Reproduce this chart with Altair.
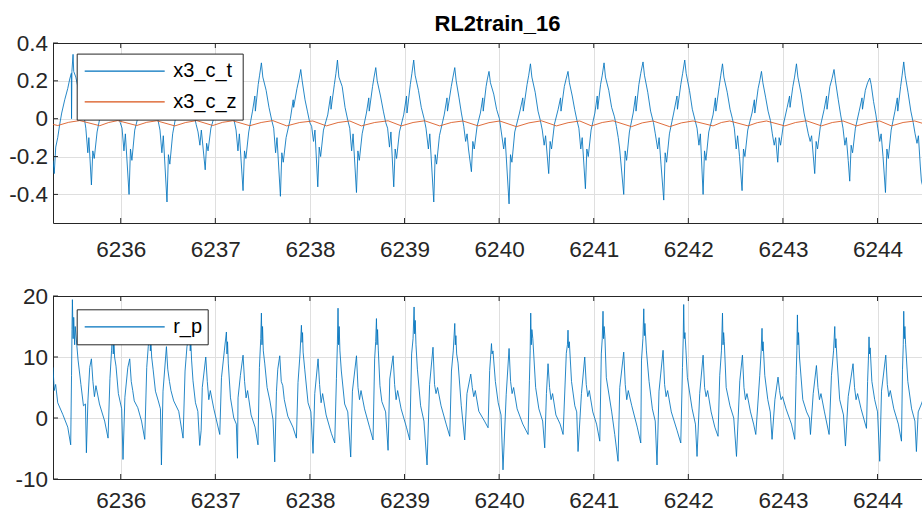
import altair as alt
import pandas as pd

# ---------------- data ----------------
x3_c_t = [
    (6235.284,-0.22),(6235.297,-0.29),(6235.313,-0.15),(6235.334,-0.10),(6235.355,-0.03),(6235.376,0.03),(6235.408,0.10),(6235.440,0.16),(6235.461,0.21),(6235.478,0.24),(6235.480,0.00),(6235.484,0.25),(6235.496,0.34),(6235.503,0.25),(6235.525,0.22),(6235.567,0.12),(6235.610,0.02),(6235.631,-0.05),(6235.652,-0.18),(6235.663,-0.10),
    (6235.690,-0.35),(6235.705,-0.17),(6235.720,-0.21),(6235.750,-0.07),(6235.790,0.03),(6235.815,0.10),(6235.820,0.02),(6235.850,0.17),(6235.865,0.22),(6235.884,0.28),(6235.899,0.21),(6235.934,0.15),(6235.964,0.06),(6235.994,-0.02),(6236.014,-0.05),(6236.034,-0.17),(6236.049,-0.08),
    (6236.088,-0.40),(6236.103,-0.16),(6236.118,-0.22),(6236.148,-0.06),(6236.188,0.02),(6236.213,0.11),(6236.218,0.03),(6236.248,0.16),(6236.263,0.21),(6236.285,0.27),(6236.300,0.20),(6236.335,0.13),(6236.365,0.05),(6236.395,-0.01),(6236.415,-0.06),(6236.435,-0.18),(6236.450,-0.09),
    (6236.489,-0.44),(6236.504,-0.19),(6236.519,-0.24),(6236.549,-0.08),(6236.589,0.03),(6236.614,0.10),(6236.619,0.01),(6236.649,0.17),(6236.664,0.21),(6236.687,0.27),(6236.702,0.21),(6236.737,0.14),(6236.767,0.04),(6236.797,-0.03),(6236.817,-0.07),(6236.837,-0.14),(6236.852,-0.06),
    (6236.893,-0.27),(6236.908,-0.13),(6236.923,-0.17),(6236.953,-0.05),(6236.993,0.02),(6237.018,0.09),(6237.023,0.03),(6237.053,0.15),(6237.068,0.20),(6237.089,0.25),(6237.104,0.19),(6237.139,0.12),(6237.169,0.05),(6237.199,-0.01),(6237.219,-0.06),(6237.239,-0.17),(6237.254,-0.08),
    (6237.293,-0.38),(6237.308,-0.17),(6237.323,-0.21),(6237.353,-0.07),(6237.393,0.04),(6237.418,0.12),(6237.423,0.04),(6237.453,0.18),(6237.468,0.23),(6237.487,0.295),(6237.502,0.22),(6237.537,0.15),(6237.567,0.06),(6237.597,-0.01),(6237.617,-0.05),(6237.637,-0.18),(6237.652,-0.10),
    (6237.688,-0.41),(6237.703,-0.18),(6237.718,-0.23),(6237.748,-0.10),(6237.793,0.00),(6237.823,0.10),(6237.828,0.06),(6237.863,0.16),(6237.885,0.21),(6237.903,0.26),(6237.918,0.20),(6237.948,0.10),(6237.973,0.04),(6237.998,-0.02),(6238.018,-0.04),(6238.038,-0.12),(6238.053,-0.06),
    (6238.083,-0.36),(6238.098,-0.15),(6238.113,-0.20),(6238.143,-0.06),(6238.188,0.02),(6238.218,0.12),(6238.223,0.05),(6238.258,0.18),(6238.275,0.24),(6238.291,0.31),(6238.306,0.22),(6238.341,0.17),(6238.371,0.06),(6238.401,-0.01),(6238.421,-0.05),(6238.441,-0.17),(6238.456,-0.08),
    (6238.492,-0.39),(6238.507,-0.17),(6238.522,-0.22),(6238.552,-0.08),(6238.597,0.03),(6238.622,0.11),(6238.627,0.04),(6238.662,0.17),(6238.678,0.22),(6238.696,0.27),(6238.711,0.20),(6238.746,0.12),(6238.776,0.04),(6238.801,-0.02),(6238.821,-0.05),(6238.841,-0.15),(6238.856,-0.07),
    (6238.886,-0.36),(6238.901,-0.16),(6238.916,-0.21),(6238.946,-0.07),(6238.991,0.02),(6239.021,0.12),(6239.026,0.03),(6239.061,0.18),(6239.078,0.24),(6239.097,0.31),(6239.112,0.23),(6239.147,0.15),(6239.177,0.06),(6239.207,0.00),(6239.227,-0.05),(6239.252,-0.16),(6239.267,-0.08),
    (6239.309,-0.44),(6239.324,-0.19),(6239.339,-0.24),(6239.369,-0.09),(6239.419,0.02),(6239.449,0.11),(6239.454,0.04),(6239.494,0.17),(6239.512,0.22),(6239.531,0.27),(6239.546,0.20),(6239.576,0.11),(6239.601,0.03),(6239.626,-0.04),(6239.646,-0.12),(6239.661,-0.08),(6239.676,-0.16),
    (6239.707,-0.28),(6239.722,-0.12),(6239.737,-0.16),(6239.767,-0.04),(6239.802,0.03),(6239.827,0.11),(6239.832,0.04),(6239.862,0.17),(6239.876,0.21),(6239.893,0.25),(6239.908,0.19),(6239.943,0.13),(6239.973,0.05),(6240.003,0.00),(6240.023,-0.07),(6240.048,-0.16),(6240.063,-0.10),
    (6240.105,-0.45),(6240.120,-0.19),(6240.135,-0.23),(6240.165,-0.07),(6240.215,0.03),(6240.250,0.11),(6240.255,0.04),(6240.295,0.18),(6240.313,0.23),(6240.331,0.29),(6240.346,0.22),(6240.381,0.14),(6240.411,0.04),(6240.436,-0.01),(6240.456,-0.06),(6240.476,-0.14),(6240.491,-0.09),
    (6240.524,-0.29),(6240.539,-0.12),(6240.554,-0.16),(6240.584,-0.03),(6240.624,0.05),(6240.649,0.11),(6240.654,0.04),(6240.689,0.17),(6240.708,0.21),(6240.728,0.25),(6240.743,0.19),(6240.773,0.12),(6240.798,0.05),(6240.823,-0.01),(6240.843,-0.05),(6240.863,-0.16),(6240.878,-0.10),
    (6240.912,-0.37),(6240.927,-0.16),(6240.942,-0.20),(6240.972,-0.06),(6241.012,0.03),(6241.037,0.12),(6241.042,0.05),(6241.072,0.18),(6241.090,0.23),(6241.109,0.295),(6241.124,0.22),(6241.159,0.15),(6241.189,0.06),(6241.219,0.01),(6241.239,-0.04),(6241.259,-0.10),(6241.274,-0.16),
    (6241.317,-0.40),(6241.332,-0.17),(6241.347,-0.22),(6241.377,-0.07),(6241.417,0.03),(6241.442,0.12),(6241.447,0.04),(6241.477,0.18),(6241.497,0.24),(6241.521,0.30),(6241.536,0.23),(6241.571,0.14),(6241.601,0.04),(6241.631,-0.02),(6241.651,-0.08),(6241.676,-0.16),(6241.691,-0.10),(6241.711,-0.24),
    (6241.740,-0.43),(6241.755,-0.18),(6241.770,-0.23),(6241.800,-0.08),(6241.845,0.03),(6241.880,0.12),(6241.885,0.05),(6241.920,0.18),(6241.940,0.24),(6241.962,0.31),(6241.977,0.24),(6242.012,0.15),(6242.042,0.05),(6242.072,-0.01),(6242.092,-0.05),(6242.112,-0.14),(6242.127,-0.08),
    (6242.156,-0.40),(6242.171,-0.17),(6242.186,-0.22),(6242.216,-0.07),(6242.261,0.02),(6242.286,0.11),(6242.291,0.04),(6242.326,0.17),(6242.343,0.23),(6242.361,0.29),(6242.376,0.22),(6242.411,0.14),(6242.441,0.05),(6242.466,0.00),(6242.486,-0.05),(6242.506,-0.16),(6242.521,-0.09),(6242.541,-0.20),
    (6242.568,-0.38),(6242.583,-0.16),(6242.598,-0.20),(6242.628,-0.06),(6242.673,0.03),(6242.698,0.10),(6242.703,0.03),(6242.738,0.16),(6242.755,0.20),(6242.773,0.25),(6242.788,0.19),(6242.818,0.11),(6242.843,0.04),(6242.868,-0.01),(6242.888,-0.08),(6242.908,-0.14),(6242.923,-0.10),
    (6242.945,-0.23),(6242.960,-0.10),(6242.975,-0.14),(6243.005,-0.03),(6243.045,0.06),(6243.070,0.12),(6243.075,0.06),(6243.105,0.17),(6243.123,0.22),(6243.143,0.29),(6243.158,0.22),(6243.193,0.13),(6243.223,0.03),(6243.248,-0.03),(6243.268,-0.08),(6243.288,-0.12),(6243.303,-0.09),
    (6243.336,-0.29),(6243.351,-0.12),(6243.366,-0.16),(6243.396,-0.04),(6243.436,0.05),(6243.461,0.12),(6243.466,0.05),(6243.496,0.17),(6243.518,0.21),(6243.540,0.26),(6243.555,0.20),(6243.585,0.10),(6243.610,0.02),(6243.635,-0.05),(6243.655,-0.14),(6243.670,-0.10),(6243.690,-0.22),
    (6243.706,-0.33),(6243.721,-0.14),(6243.736,-0.18),(6243.766,-0.05),(6243.806,0.04),(6243.836,0.11),(6243.841,0.05),(6243.871,0.15),(6243.895,0.19),(6243.918,0.215),(6243.933,0.18),(6243.958,0.09),(6243.983,0.02),(6244.003,-0.05),(6244.023,-0.12),(6244.038,-0.08),(6244.058,-0.20),
    (6244.084,-0.39),(6244.099,-0.16),(6244.114,-0.21),(6244.144,-0.06),(6244.184,0.04),(6244.209,0.11),(6244.214,0.04),(6244.244,0.17),(6244.260,0.23),(6244.277,0.30),(6244.292,0.23),(6244.322,0.14),(6244.352,0.04),(6244.377,-0.02),(6244.397,-0.08),(6244.417,-0.13),(6244.432,-0.09),(6244.452,-0.25),(6244.464,-0.33),(6244.480,-0.36),
]

x3_c_z = [
    (6235.284,-0.030),(6235.334,-0.036),(6235.450,-0.019),(6235.567,-0.010),(6235.778,-0.037),(6235.873,-0.020),(6235.968,-0.010),
    (6236.169,-0.036),(6236.275,-0.019),(6236.381,-0.011),(6236.571,-0.038),(6236.687,-0.020),(6236.803,-0.010),(6236.973,-0.036),
    (6237.078,-0.019),(6237.184,-0.011),(6237.364,-0.037),(6237.485,-0.020),(6237.607,-0.010),(6237.755,-0.038),(6237.892,-0.020),
    (6238.030,-0.012),(6238.174,-0.038),(6238.298,-0.020),(6238.421,-0.012),(6238.544,-0.038),(6238.685,-0.020),(6238.826,-0.011),
    (6238.967,-0.038),(6239.090,-0.020),(6239.214,-0.011),(6239.372,-0.038),(6239.495,-0.020),(6239.618,-0.012),(6239.777,-0.038),
    (6239.892,-0.021),(6240.006,-0.012),(6240.183,-0.042),(6240.315,-0.022),(6240.447,-0.011),(6240.606,-0.038),(6240.729,-0.021),
    (6240.852,-0.012),(6240.976,-0.038),(6241.090,-0.020),(6241.204,-0.011),(6241.399,-0.042),(6241.513,-0.022),(6241.627,-0.012),
    (6241.803,-0.042),(6241.927,-0.022),(6242.050,-0.012),(6242.261,-0.038),(6242.350,-0.020),(6242.438,-0.012),(6242.631,-0.038),
    (6242.729,-0.021),(6242.826,-0.012),(6243.019,-0.038),(6243.134,-0.020),(6243.249,-0.011),(6243.407,-0.038),(6243.522,-0.020),
    (6243.636,-0.012),(6243.777,-0.038),(6243.900,-0.021),(6244.023,-0.012),(6244.147,-0.038),(6244.270,-0.020),(6244.393,-0.012),
    (6244.480,-0.025),
]

r_p = [
    (6235.284,8.3),(6235.297,4.5),(6235.312,5.5),(6235.334,2.5),(6235.387,0.6),(6235.440,-1.5),
    (6235.471,-4.4),(6235.480,7.0),(6235.485,14.5),(6235.489,19.4),(6235.497,13.0),(6235.503,16.5),(6235.513,12.0),(6235.519,15.0),(6235.549,9.5),(6235.579,5.5),(6235.606,2.0),(6235.627,2.3),(6235.637,-5.7),(6235.653,2.8),(6235.672,8.3),(6235.690,9.7),(6235.706,6.0),(6235.722,3.5),(6235.738,5.3),(6235.775,2.3),(6235.830,-0.5),
    (6235.866,-3.3),(6235.886,6.5),(6235.903,11.0),(6235.915,15.0),(6235.921,10.5),(6235.927,13.5),(6235.935,10.0),(6235.950,8.5),(6235.975,4.0),(6236.010,1.5),(6236.024,-6.8),(6236.044,3.4),(6236.075,8.3),(6236.095,9.7),(6236.111,6.0),(6236.127,4.5),(6236.143,2.8),(6236.180,1.7),(6236.220,-0.5),
    (6236.254,-3.5),(6236.275,8.3),(6236.291,11.7),(6236.307,15.0),(6236.313,11.0),(6236.319,12.5),(6236.327,10.0),(6236.342,8.0),(6236.367,4.4),(6236.397,2.8),(6236.420,1.5),(6236.430,-7.7),(6236.447,4.4),(6236.483,11.7),(6236.497,8.0),(6236.515,6.0),(6236.531,4.5),(6236.560,2.8),(6236.613,1.1),
    (6236.659,-3.3),(6236.680,7.7),(6236.700,11.7),(6236.729,14.0),(6236.735,11.0),(6236.741,12.5),(6236.749,9.5),(6236.764,6.1),(6236.790,2.5),(6236.815,1.1),(6236.835,-4.5),(6236.850,-2.0),(6236.862,5.0),(6236.899,10.0),(6236.915,6.0),(6236.931,3.0),(6236.947,4.5),(6236.984,1.5),
    (6237.047,-2.7),(6237.065,6.6),(6237.095,11.0),(6237.117,14.1),(6237.123,10.5),(6237.129,12.5),(6237.137,9.0),(6237.160,3.3),(6237.195,0.0),(6237.222,-1.0),(6237.234,-6.6),(6237.240,3.3),(6237.265,7.0),(6237.293,10.3),(6237.309,6.0),(6237.325,3.3),(6237.341,4.5),(6237.378,0.5),(6237.420,-1.5),
    (6237.451,-4.4),(6237.466,8.3),(6237.480,13.0),(6237.487,17.2),(6237.493,12.0),(6237.499,15.0),(6237.507,11.0),(6237.522,9.0),(6237.547,5.0),(6237.577,2.8),(6237.610,-0.3),(6237.628,-7.2),(6237.646,4.3),(6237.660,8.0),(6237.681,10.2),(6237.697,6.0),(6237.713,5.3),(6237.729,3.0),(6237.766,0.3),(6237.820,-1.5),
    (6237.857,-3.3),(6237.874,5.8),(6237.895,10.5),(6237.910,15.2),(6237.916,12.4),(6237.922,14.0),(6237.928,10.8),(6237.945,8.0),(6237.980,2.5),(6238.010,1.0),(6238.033,-5.8),(6238.051,4.0),(6238.086,9.7),(6238.102,5.5),(6238.118,2.5),(6238.134,4.0),(6238.171,0.5),(6238.226,-2.5),
    (6238.262,-4.1),(6238.280,6.5),(6238.290,12.0),(6238.297,18.0),(6238.303,12.0),(6238.309,15.0),(6238.317,11.0),(6238.332,7.7),(6238.367,2.3),(6238.400,1.0),(6238.431,-6.4),(6238.449,4.4),(6238.492,10.2),(6238.508,5.0),(6238.524,3.0),(6238.540,4.5),(6238.577,1.5),(6238.630,-1.5),
    (6238.667,-3.6),(6238.684,9.7),(6238.695,12.5),(6238.703,16.3),(6238.709,12.0),(6238.715,14.5),(6238.723,11.0),(6238.740,5.3),(6238.760,2.7),(6238.800,1.0),(6238.826,-5.3),(6238.844,6.4),(6238.879,10.2),(6238.895,5.5),(6238.911,3.0),(6238.927,4.5),(6238.964,1.5),(6239.020,-1.5),
    (6239.055,-3.6),(6239.075,10.5),(6239.090,13.0),(6239.101,18.2),(6239.107,13.8),(6239.113,16.0),(6239.121,12.0),(6239.136,8.0),(6239.170,2.0),(6239.205,-0.5),(6239.238,-7.7),(6239.265,5.5),(6239.301,11.6),(6239.317,5.5),(6239.333,4.0),(6239.349,5.0),(6239.386,2.0),(6239.440,-1.0),
    (6239.478,-3.0),(6239.496,7.7),(6239.515,11.0),(6239.531,15.5),(6239.537,12.0),(6239.543,13.5),(6239.551,10.5),(6239.566,9.0),(6239.600,2.0),(6239.636,-3.6),(6239.660,4.0),(6239.700,7.2),(6239.716,5.0),(6239.732,3.5),(6239.748,4.5),(6239.785,1.1),(6239.845,-0.5),
    (6239.883,-1.6),(6239.900,7.8),(6239.912,10.5),(6239.919,12.2),(6239.925,10.5),(6239.935,11.0),(6239.960,6.0),(6239.990,2.5),(6240.020,0.5),(6240.041,-8.5),(6240.075,3.9),(6240.105,11.4),(6240.121,6.0),(6240.137,4.0),(6240.153,5.0),(6240.190,1.5),(6240.250,-1.0),
    (6240.306,-2.7),(6240.320,6.1),(6240.328,11.0),(6240.334,17.2),(6240.340,12.0),(6240.346,14.5),(6240.356,13.0),(6240.386,5.0),(6240.420,1.5),(6240.460,-0.5),(6240.482,-4.9),(6240.500,4.0),(6240.517,8.9),(6240.533,5.0),(6240.549,3.0),(6240.565,4.0),(6240.600,0.5),(6240.645,-1.0),
    (6240.676,-2.7),(6240.710,10.6),(6240.722,12.0),(6240.728,14.4),(6240.734,11.5),(6240.742,12.5),(6240.765,6.0),(6240.800,2.0),(6240.820,1.0),(6240.834,-5.5),(6240.870,4.0),(6240.905,10.0),(6240.921,5.5),(6240.937,3.5),(6240.953,4.5),(6240.990,1.0),(6241.030,-1.0),
    (6241.064,-3.8),(6241.080,10.5),(6241.090,13.0),(6241.098,17.5),(6241.104,13.0),(6241.110,15.0),(6241.118,13.3),(6241.133,6.6),(6241.190,1.0),(6241.222,-2.7),(6241.257,-7.1),(6241.275,5.0),(6241.317,10.8),(6241.333,5.5),(6241.349,3.0),(6241.365,4.5),(6241.402,2.0),(6241.460,-1.5),
    (6241.497,-4.1),(6241.505,9.5),(6241.520,13.0),(6241.529,17.9),(6241.535,13.5),(6241.541,15.5),(6241.557,11.0),(6241.585,6.0),(6241.620,1.5),(6241.650,-0.5),(6241.669,-7.7),(6241.690,4.4),(6241.733,11.1),(6241.749,5.5),(6241.765,3.5),(6241.781,4.5),(6241.820,1.0),(6241.880,-2.0),
    (6241.920,-4.1),(6241.938,8.3),(6241.946,13.0),(6241.951,18.6),(6241.957,13.0),(6241.964,14.0),(6241.975,11.0),(6241.990,6.6),(6242.040,1.5),(6242.075,-1.0),(6242.092,-6.3),(6242.120,4.0),(6242.156,10.3),(6242.172,5.0),(6242.188,3.5),(6242.204,4.5),(6242.241,1.0),(6242.280,-1.5),
    (6242.314,-3.0),(6242.332,7.0),(6242.350,11.0),(6242.361,17.2),(6242.367,12.0),(6242.373,14.0),(6242.380,12.5),(6242.400,5.0),(6242.440,2.0),(6242.480,0.0),(6242.509,-6.3),(6242.544,6.1),(6242.572,10.3),(6242.588,5.0),(6242.604,3.0),(6242.620,4.0),(6242.657,1.0),(6242.690,-1.0),
    (6242.713,-2.7),(6242.755,7.0),(6242.770,11.0),(6242.779,14.7),(6242.785,11.0),(6242.790,12.5),(6242.808,7.0),(6242.840,3.0),(6242.866,1.0),(6242.885,-3.5),(6242.915,3.0),(6242.948,6.7),(6242.964,4.5),(6242.980,3.0),(6242.996,3.5),(6243.033,1.5),(6243.090,-1.0),
    (6243.125,-3.5),(6243.140,7.0),(6243.147,11.0),(6243.153,16.9),(6243.159,12.0),(6243.165,14.0),(6243.175,10.0),(6243.210,3.0),(6243.250,1.0),(6243.280,0.0),(6243.291,-2.7),(6243.320,4.0),(6243.354,8.6),(6243.370,5.0),(6243.386,3.0),(6243.402,4.0),(6243.439,1.0),
    (6243.488,-2.7),(6243.513,7.0),(6243.535,11.0),(6243.548,15.0),(6243.554,11.5),(6243.560,13.0),(6243.570,10.0),(6243.600,3.0),(6243.640,0.5),(6243.661,-4.6),(6243.690,3.5),(6243.741,8.9),(6243.757,5.0),(6243.773,3.0),(6243.789,4.0),(6243.826,1.5),
    (6243.883,-1.7),(6243.895,6.0),(6243.903,9.5),(6243.910,13.3),(6243.916,10.5),(6243.922,11.5),(6243.940,6.0),(6243.970,3.0),(6244.000,1.0),(6244.023,-7.1),(6244.042,4.4),(6244.087,10.3),(6244.103,5.5),(6244.119,3.5),(6244.135,4.5),(6244.172,1.5),(6244.220,-1.0),
    (6244.253,-3.8),(6244.264,8.0),(6244.272,12.0),(6244.277,17.5),(6244.283,13.0),(6244.289,15.0),(6244.297,12.0),(6244.320,6.0),(6244.360,1.5),(6244.395,-0.5),(6244.411,-5.5),(6244.430,1.0),(6244.464,2.3),(6244.480,3.0),
]

x_ticks = [6236, 6237, 6238, 6239, 6240, 6241, 6242, 6243, 6244]
top_y_ticks = [-0.4, -0.2, 0, 0.2, 0.4]
bot_y_ticks = [-10, 0, 10, 20]
top_series = ["x3_c_t", "x3_c_z"]
bot_series = ["r_p"]
title_text = "RL2train_16"

X_DOMAIN = [6235.284, 6244.470]
TOP_Y_DOMAIN = [-0.551, 0.4]
BOT_Y_DOMAIN = [-10, 20]

BLUE = "#0072BD"
ORANGE = "#D95319"
AX = "#262626"
GRID = "#dfdfdf"
FONT = "Liberation Sans"
W = 869
H_TOP = 180
H_BOT = 183

top_df = pd.DataFrame(
    [(t, v, "x3_c_t") for t, v in x3_c_t] + [(t, v, "x3_c_z") for t, v in x3_c_z],
    columns=["t", "v", "series"],
)
bot_df = pd.DataFrame([(t, v, "r_p") for t, v in r_p], columns=["t", "v", "series"])


def panel(df, names, colors, ydom, yticks, label_expr, legend_y, h, xpad):
    x = alt.X(
        "t:Q",
        scale=alt.Scale(domain=X_DOMAIN, nice=False, zero=False),
        axis=alt.Axis(
            values=x_ticks, format="d", title=None, grid=True, gridColor=GRID,
            gridWidth=1, domain=True, domainColor=AX, domainWidth=1,
            ticks=False, tickSize=0, labelPadding=xpad,
            labelFont=FONT, labelFontSize=22.5, labelColor=AX,
            labelFlush=False, labelOverlap=False,
        ),
    )
    y = alt.Y(
        "v:Q",
        scale=alt.Scale(domain=ydom, nice=False, zero=False),
        axis=alt.Axis(
            values=yticks, title=None, grid=True, gridColor=GRID, gridWidth=1,
            domain=True, domainColor=AX, domainWidth=1,
            ticks=False, tickSize=0, labelPadding=5.5,
            labelFont=FONT, labelFontSize=22.5, labelColor=AX,
            labelExpr=label_expr, minExtent=48, maxExtent=48, labelOverlap=False,
        ),
    )
    color = alt.Color(
        "series:N",
        scale=alt.Scale(domain=names, range=colors),
        legend=alt.Legend(
            title=None, orient="none", legendX=23.7, legendY=legend_y,
            symbolType="stroke", symbolSize=6400, symbolStrokeWidth=1.2,
            symbolOpacity=1, symbolOffset=1.5, labelOffset=7.5,
            labelFont=FONT, labelFontSize=20, labelColor="black",
            padding=5.5, rowPadding=6.7, clipHeight=24,
            strokeColor=AX, fillColor="white", cornerRadius=0,
        ),
    )
    lines = alt.Chart(df).mark_line(strokeWidth=0.85, clip=True).encode(
        x=x, y=y, color=color
    )
    xt = pd.DataFrame({"t": x_ticks})
    yt = pd.DataFrame({"v": yticks})
    top_ticks = alt.Chart(xt).mark_rule(color=AX, strokeWidth=1).encode(
        x=x, y=alt.value(0), y2=alt.value(5)
    )
    bottom_ticks = alt.Chart(xt).mark_rule(color=AX, strokeWidth=1).encode(
        x=x, y=alt.value(h), y2=alt.value(h - 5)
    )
    left_ticks = alt.Chart(yt).mark_rule(color=AX, strokeWidth=1).encode(
        y=y, x=alt.value(0), x2=alt.value(5)
    )
    top_border = alt.Chart(pd.DataFrame({"edge": ["top"]})).mark_rule(
        color=AX, strokeWidth=1
    ).encode(x=alt.value(0), x2=alt.value(W), y=alt.value(0.5))
    return alt.layer(lines, top_ticks, bottom_ticks, left_ticks, top_border).properties(
        width=W, height=h
    )


top = panel(
    top_df, top_series, [BLUE, ORANGE], TOP_Y_DOMAIN, top_y_ticks,
    "datum.value == 0 ? '0' : (datum.value < 0 ? '-' : '') + format(abs(datum.value), '.1f')",
    10.6, H_TOP, 15.5,
).properties(
    title=alt.TitleParams(
        title_text, font=FONT, fontSize=22, fontWeight="bold", color="black",
        anchor="middle", frame="group", offset=-4, dx=10,
    )
)
bottom = panel(
    bot_df, bot_series, [BLUE], BOT_Y_DOMAIN, bot_y_ticks,
    "(datum.value < 0 ? '-' : '') + format(abs(datum.value), 'd')",
    13.3, H_BOT, 10,
)

chart = (
    alt.vconcat(top, bottom, spacing=24)
    .resolve_scale(color="independent")
    .configure_view(strokeWidth=0)
    .properties(
        padding={"left": 5, "top": 13, "right": -1, "bottom": 0},
        background="white",
    )
)

chart.save("out.html", embed_options={"renderer": "svg", "actions": False})
